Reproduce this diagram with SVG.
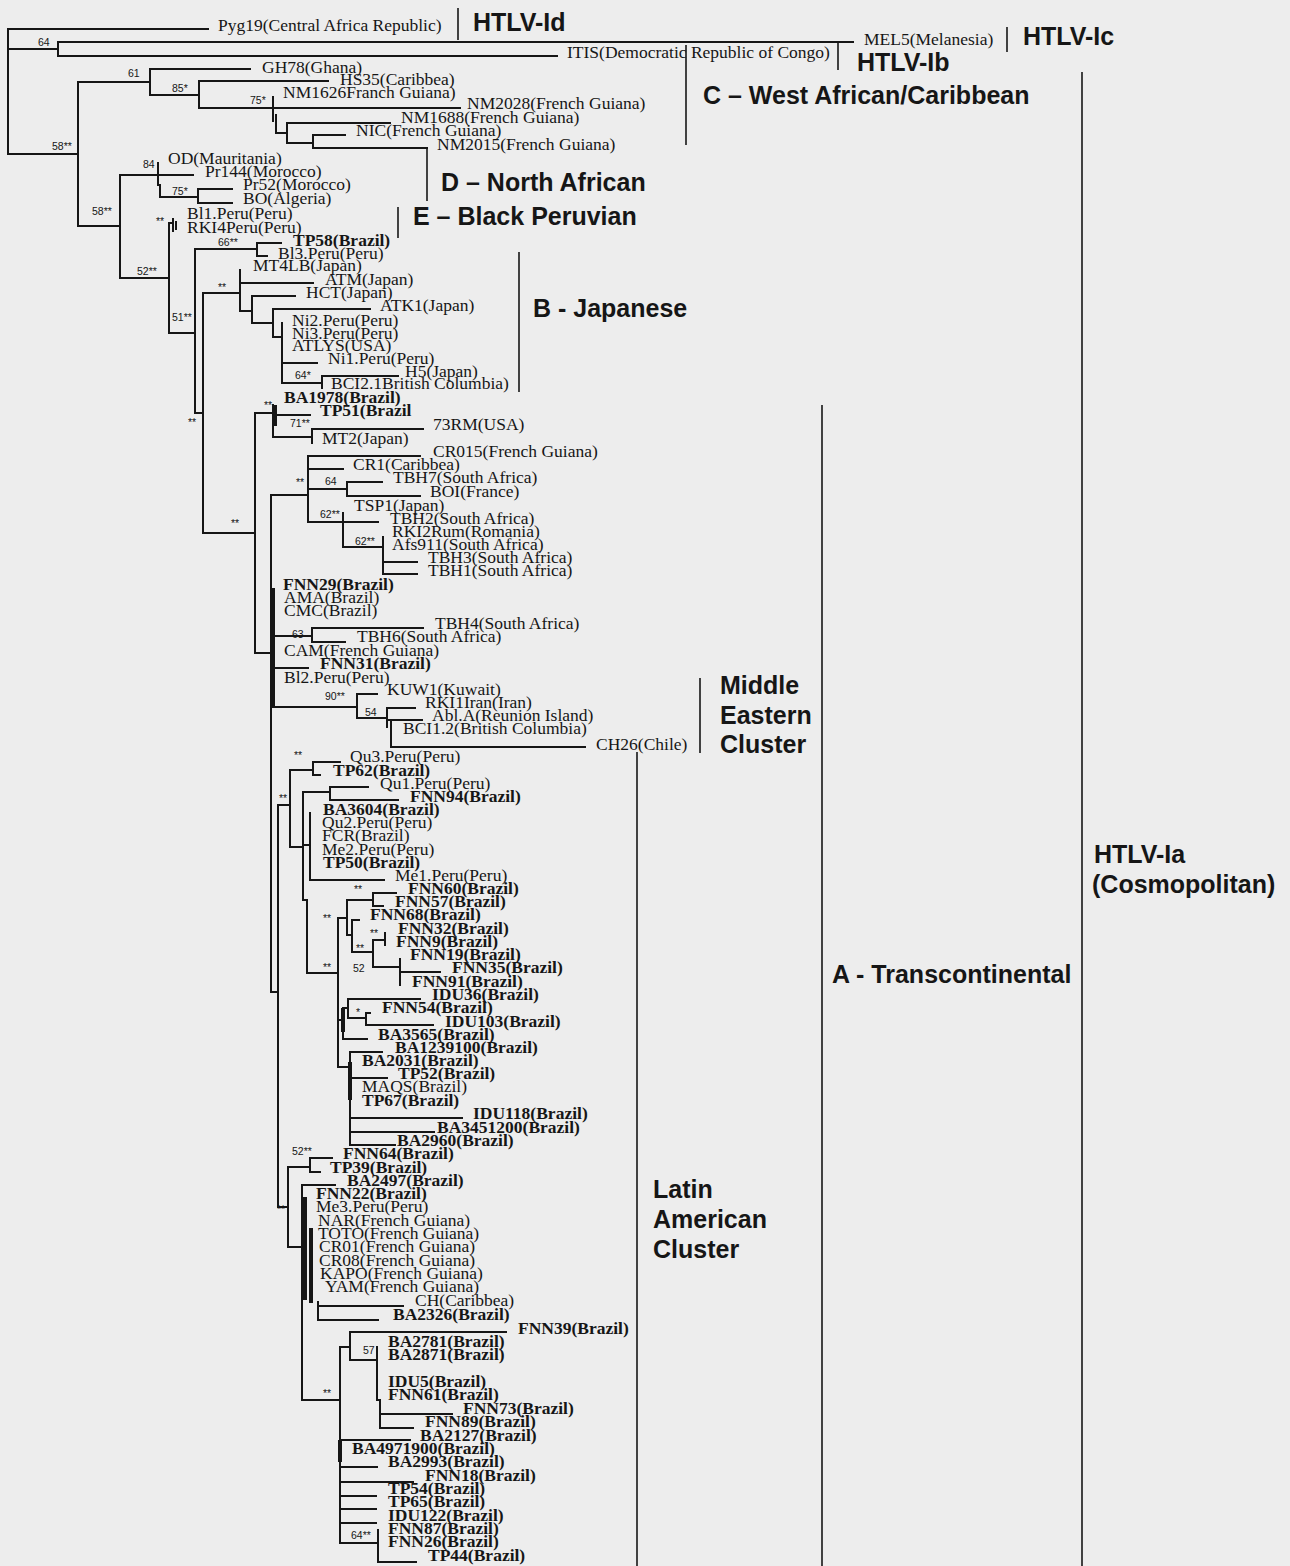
<svg xmlns="http://www.w3.org/2000/svg" width="1290" height="1566" viewBox="0 0 1290 1566">
<style>
.t{font-family:"Liberation Serif","Times New Roman",serif;font-size:17.5px;fill:#161616}
.b{font-weight:bold}
.s{font-family:"Liberation Sans",Arial,sans-serif;font-size:10.5px;fill:#161616}
.L{font-family:"Liberation Sans",Arial,sans-serif;font-size:25px;font-weight:bold;fill:#161616}
.e{fill:none;stroke:#161616;stroke-width:2;stroke-linecap:square}
.k{fill:none;stroke:#161616;stroke-width:4}
.bar{fill:none;stroke:#161616;stroke-width:1.6}
</style>
<rect width="1290" height="1566" fill="#ededed"/>
<g id="connectors">
<path class="e" d="M8 29V154M8 29H208M8 49H58M58 42V56M58 42H853M58 56H557M8 154H78M78 82V226M78 82H150M150 69V95M150 69H250M150 95H199M199 81V108M199 81H328M199 108H460M273 97V121M276 115V133M276 133H287M287 123V143M287 123H390M287 143H313M313 135V148M313 135H345M313 148H427"/>
<path class="e" d="M78 226H120M120 175V278M120 175H193M158 163V185M158 185H160M160 185V197M160 197H198M198 189V203M198 189H232M198 203H232"/>
<path class="e" d="M120 278H169M169 223V333M169 223H173M173 219V231M176 222V229M169 333H195M195 249V413M195 249H257M257 243V256M257 243H281M257 256H267M195 413H203M203 293V533M203 293H240M240 270V311M240 283H313M240 311H252M252 296V323M252 296H295M252 323H273M273 309V337M273 309H370M273 337H282M282 323V383M282 363H317M282 383H322M322 376V388M322 376H398"/>
<path class="e" d="M203 533H255M255 413V653M255 413H273M273 405V437M275 415H310M273 437H312M312 429V443M312 429H423"/>
<path class="k" d="M275 405V426"/>
<path class="e" d="M255 653H271M271 495V992M271 495H308M308 456V522M308 456H420M308 469H343M308 489H347M347 482V496M347 482H382M347 496H420M308 522H343M343 513V547M343 522H378M343 547H383M383 537V574M383 562H417M383 574H417"/>
<path class="k" d="M273 588V707"/>
<path class="e" d="M271 636H312M312 628V642M312 628H423M312 642H345M273 668H308M273 707H357M357 694V718M357 694H377M357 718H387M387 708V727M387 708H415M387 720H422M391 722V747M391 747H585"/>
<path class="e" d="M271 992H278M278 805V1207M278 805H290M290 770V847M290 770H313M313 762V775M313 762H340M313 775H320M290 847H303M303 792V900M303 792H330M330 787V800M330 787H368M330 800H398M303 845H310M310 813V880M310 880H384M303 900H307M307 900V973M307 973H338"/>
<path class="e" d="M338 918V1067M338 918H347M347 900V935M347 900H373M373 893V906M373 893H396M373 906H383M347 935H352M352 920V952M352 920H359M352 952H373M373 940V967M373 940H385M385 933V945M373 967H400M400 959V985M400 972H440"/>
<path class="e" d="M338 1020H343M343 1008V1039M343 1008H348M348 999V1018M348 999H420M348 1018H366M366 1013V1025M366 1013H370M366 1025H433M343 1039H367M338 1067H350M350 1052V1145M350 1052H382M350 1078H387M350 1118H462M350 1132H434M350 1145H395"/>
<path class="k" d="M343 1008V1032M350 1062V1100"/>
<path class="e" d="M278 1207H288M288 1167V1247M288 1167H310M310 1158V1172M310 1158H332M310 1172H320M288 1247H302M302 1185V1400M302 1185H335M318 1302V1320M318 1306H403M318 1320H378"/>
<path class="k" d="M305 1197V1300M311 1228V1303"/>
<path class="e" d="M302 1400H340M340 1347V1543M340 1347H350M350 1332V1360M350 1332H506M350 1360H377M377 1347V1400M380 1400V1428M377 1400H380M380 1414H452M380 1428H413M340 1440H410M340 1467H377M340 1482H413M340 1496H376M340 1509H376M340 1523H376M340 1543H378M378 1530V1562M378 1562H416"/>
<path class="k" d="M340 1440V1462"/>
</g>
<g id="support">
<text class="s" x="38" y="46">64</text>
<text class="s" x="52" y="150">58**</text>
<text class="s" x="128" y="77">61</text>
<text class="s" x="172" y="92">85*</text>
<text class="s" x="250" y="104">75*</text>
<text class="s" x="143" y="168">84</text>
<text class="s" x="172" y="195">75*</text>
<text class="s" x="92" y="215">58**</text>
<text class="s" x="156" y="225">**</text>
<text class="s" x="137" y="275">52**</text>
<text class="s" x="218" y="246">66**</text>
<text class="s" x="218" y="291">**</text>
<text class="s" x="172" y="321">51**</text>
<text class="s" x="295" y="379">64*</text>
<text class="s" x="188" y="426">**</text>
<text class="s" x="264" y="409">**</text>
<text class="s" x="290" y="427">71**</text>
<text class="s" x="231" y="527">**</text>
<text class="s" x="296" y="486">**</text>
<text class="s" x="325" y="485">64</text>
<text class="s" x="320" y="518">62**</text>
<text class="s" x="355" y="545">62**</text>
<text class="s" x="292" y="638">63</text>
<text class="s" x="325" y="700">90**</text>
<text class="s" x="365" y="716">54</text>
<text class="s" x="294" y="759">**</text>
<text class="s" x="279" y="802">**</text>
<text class="s" x="354" y="893">**</text>
<text class="s" x="323" y="922">**</text>
<text class="s" x="370" y="937">**</text>
<text class="s" x="356" y="952">**</text>
<text class="s" x="323" y="971">**</text>
<text class="s" x="353" y="972">52</text>
<text class="s" x="356" y="1016">*</text>
<text class="s" x="292" y="1155">52**</text>
<text class="s" x="277" y="1213">**</text>
<text class="s" x="363" y="1354">57</text>
<text class="s" x="323" y="1397">**</text>
<text class="s" x="351" y="1539">64**</text>
</g>
<g id="clade-HTLV-Id"><path class="bar" d="M458 8V40"/><text class="L" x="473" y="31">HTLV-Id</text></g>
<g id="clade-HTLV-Ic"><path class="bar" d="M1007 27V52"/><text class="L" x="1023" y="45">HTLV-Ic</text></g>
<g id="clade-HTLV-Ib"><path class="bar" d="M838 42V70"/><text class="L" x="857" y="71">HTLV-Ib</text></g>
<g id="clade-C"><path class="bar" d="M686 45V145"/><text class="L" x="703" y="104">C – West African/Caribbean</text></g>
<g id="clade-D"><path class="bar" d="M427 148V201"/><text class="L" x="441" y="191">D – North African</text></g>
<g id="clade-E"><path class="bar" d="M398 207V238"/><text class="L" x="413" y="225">E – Black Peruvian</text></g>
<g id="clade-B"><path class="bar" d="M519 252V392"/><text class="L" x="533" y="317">B - Japanese</text></g>
<g id="clade-A"><path class="bar" d="M822 405V1566"/><text class="L" x="832" y="983">A - Transcontinental</text></g>
<g id="clade-HTLV-Ia"><path class="bar" d="M1082 72V1566"/><text class="L" x="1094" y="863">HTLV-Ia</text><text class="L" x="1092" y="893">(Cosmopolitan)</text></g>
<g id="clade-MiddleEastern"><path class="bar" d="M700 678V753"/><text class="L" x="720" y="694">Middle</text><text class="L" x="720" y="724">Eastern</text><text class="L" x="720" y="753">Cluster</text></g>
<g id="clade-LatinAmerican"><path class="bar" d="M637 752V1566"/><text class="L" x="653" y="1198">Latin</text><text class="L" x="653" y="1228">American</text><text class="L" x="653" y="1258">Cluster</text></g>
<g id="leaf-Pyg19"><text class="t" x="218" y="31">Pyg19(Central Africa Republic)</text></g>
<g id="leaf-MEL5"><text class="t" x="864" y="45">MEL5(Melanesia)</text></g>
<g id="leaf-ITIS"><text class="t" x="567" y="58">ITIS(Democratic Republic of Congo)</text></g>
<g id="leaf-GH78"><text class="t" x="262" y="73">GH78(Ghana)</text></g>
<g id="leaf-HS35"><text class="t" x="340" y="85">HS35(Caribbea)</text></g>
<g id="leaf-NM1626"><text class="t" x="283" y="98">NM1626Franch Guiana)</text></g>
<g id="leaf-NM2028"><text class="t" x="467" y="109">NM2028(French Guiana)</text></g>
<g id="leaf-NM1688"><text class="t" x="401" y="123">NM1688(French Guiana)</text></g>
<g id="leaf-NIC"><text class="t" x="356" y="136">NIC(French Guiana)</text></g>
<g id="leaf-NM2015"><text class="t" x="437" y="150">NM2015(French Guiana)</text></g>
<g id="leaf-OD"><text class="t" x="168" y="164">OD(Mauritania)</text></g>
<g id="leaf-Pr144"><text class="t" x="205" y="177">Pr144(Morocco)</text></g>
<g id="leaf-Pr52"><text class="t" x="243" y="190">Pr52(Morocco)</text></g>
<g id="leaf-BO"><text class="t" x="243" y="204">BO(Algeria)</text></g>
<g id="leaf-Bl1"><text class="t" x="187" y="219">Bl1.Peru(Peru)</text></g>
<g id="leaf-RKI4"><text class="t" x="187" y="233">RKI4Peru(Peru)</text></g>
<g id="leaf-TP58"><text class="t b" x="293" y="246">TP58(Brazil)</text></g>
<g id="leaf-Bl3"><text class="t" x="278" y="259">Bl3.Peru(Peru)</text></g>
<g id="leaf-MT4LB"><text class="t" x="253" y="271">MT4LB(Japan)</text></g>
<g id="leaf-ATM"><text class="t" x="325" y="285">ATM(Japan)</text></g>
<g id="leaf-HCT"><text class="t" x="306" y="298">HCT(Japan)</text></g>
<g id="leaf-ATK1"><text class="t" x="380" y="311">ATK1(Japan)</text></g>
<g id="leaf-Ni2"><text class="t" x="292" y="326">Ni2.Peru(Peru)</text></g>
<g id="leaf-Ni3"><text class="t" x="292" y="339">Ni3.Peru(Peru)</text></g>
<g id="leaf-ATLYS"><text class="t" x="292" y="351">ATLYS(USA)</text></g>
<g id="leaf-Ni1"><text class="t" x="328" y="364">Ni1.Peru(Peru)</text></g>
<g id="leaf-H5"><text class="t" x="405" y="377">H5(Japan)</text></g>
<g id="leaf-BCI2.1"><text class="t" x="331" y="389">BCI2.1British Columbia)</text></g>
<g id="leaf-BA1978"><text class="t b" x="284" y="403">BA1978(Brazil)</text></g>
<g id="leaf-TP51"><text class="t b" x="320" y="416">TP51(Brazil</text></g>
<g id="leaf-73RM"><text class="t" x="433" y="430">73RM(USA)</text></g>
<g id="leaf-MT2"><text class="t" x="322" y="444">MT2(Japan)</text></g>
<g id="leaf-CR015"><text class="t" x="433" y="457">CR015(French Guiana)</text></g>
<g id="leaf-CR1"><text class="t" x="353" y="470">CR1(Caribbea)</text></g>
<g id="leaf-TBH7"><text class="t" x="393" y="483">TBH7(South Africa)</text></g>
<g id="leaf-BOI"><text class="t" x="430" y="497">BOI(France)</text></g>
<g id="leaf-TSP1"><text class="t" x="354" y="511">TSP1(Japan)</text></g>
<g id="leaf-TBH2"><text class="t" x="390" y="524">TBH2(South Africa)</text></g>
<g id="leaf-RKI2Rum"><text class="t" x="392" y="537">RKI2Rum(Romania)</text></g>
<g id="leaf-Afs911"><text class="t" x="392" y="550">Afs911(South Africa)</text></g>
<g id="leaf-TBH3"><text class="t" x="428" y="563">TBH3(South Africa)</text></g>
<g id="leaf-TBH1"><text class="t" x="428" y="576">TBH1(South Africa)</text></g>
<g id="leaf-FNN29"><text class="t b" x="283" y="590">FNN29(Brazil)</text></g>
<g id="leaf-AMA"><text class="t" x="284" y="603">AMA(Brazil)</text></g>
<g id="leaf-CMC"><text class="t" x="284" y="616">CMC(Brazil)</text></g>
<g id="leaf-TBH4"><text class="t" x="435" y="629">TBH4(South Africa)</text></g>
<g id="leaf-TBH6"><text class="t" x="357" y="642">TBH6(South Africa)</text></g>
<g id="leaf-CAM"><text class="t" x="284" y="656">CAM(French Guiana)</text></g>
<g id="leaf-FNN31"><text class="t b" x="320" y="669">FNN31(Brazil)</text></g>
<g id="leaf-Bl2"><text class="t" x="284" y="683">Bl2.Peru(Peru)</text></g>
<g id="leaf-KUW1"><text class="t" x="387" y="695">KUW1(Kuwait)</text></g>
<g id="leaf-RKI1Iran"><text class="t" x="425" y="708">RKI1Iran(Iran)</text></g>
<g id="leaf-AblA"><text class="t" x="432" y="721">Abl.A(Reunion Island)</text></g>
<g id="leaf-BCI1.2"><text class="t" x="403" y="734">BCI1.2(British Columbia)</text></g>
<g id="leaf-CH26"><text class="t" x="596" y="750">CH26(Chile)</text></g>
<g id="leaf-Qu3"><text class="t" x="350" y="762">Qu3.Peru(Peru)</text></g>
<g id="leaf-TP62"><text class="t b" x="333" y="776">TP62(Brazil)</text></g>
<g id="leaf-Qu1"><text class="t" x="380" y="789">Qu1.Peru(Peru)</text></g>
<g id="leaf-FNN94"><text class="t b" x="410" y="802">FNN94(Brazil)</text></g>
<g id="leaf-BA3604"><text class="t b" x="323" y="815">BA3604(Brazil)</text></g>
<g id="leaf-Qu2"><text class="t" x="322" y="828">Qu2.Peru(Peru)</text></g>
<g id="leaf-FCR"><text class="t" x="322" y="841">FCR(Brazil)</text></g>
<g id="leaf-Me2"><text class="t" x="322" y="855">Me2.Peru(Peru)</text></g>
<g id="leaf-TP50"><text class="t b" x="323" y="868">TP50(Brazil)</text></g>
<g id="leaf-Me1"><text class="t" x="395" y="881">Me1.Peru(Peru)</text></g>
<g id="leaf-FNN60"><text class="t b" x="408" y="894">FNN60(Brazil)</text></g>
<g id="leaf-FNN57"><text class="t b" x="395" y="907">FNN57(Brazil)</text></g>
<g id="leaf-FNN68"><text class="t b" x="370" y="920">FNN68(Brazil)</text></g>
<g id="leaf-FNN32"><text class="t b" x="398" y="934">FNN32(Brazil)</text></g>
<g id="leaf-FNN9"><text class="t b" x="396" y="947">FNN9(Brazil)</text></g>
<g id="leaf-FNN19"><text class="t b" x="410" y="960">FNN19(Brazil)</text></g>
<g id="leaf-FNN35"><text class="t b" x="452" y="973">FNN35(Brazil)</text></g>
<g id="leaf-FNN91"><text class="t b" x="412" y="987">FNN91(Brazil)</text></g>
<g id="leaf-IDU36"><text class="t b" x="432" y="1000">IDU36(Brazil)</text></g>
<g id="leaf-FNN54"><text class="t b" x="382" y="1013">FNN54(Brazil)</text></g>
<g id="leaf-IDU103"><text class="t b" x="445" y="1027">IDU103(Brazil)</text></g>
<g id="leaf-BA3565"><text class="t b" x="378" y="1040">BA3565(Brazil)</text></g>
<g id="leaf-BA1239100"><text class="t b" x="395" y="1053">BA1239100(Brazil)</text></g>
<g id="leaf-BA2031"><text class="t b" x="362" y="1066">BA2031(Brazil)</text></g>
<g id="leaf-TP52"><text class="t b" x="398" y="1079">TP52(Brazil)</text></g>
<g id="leaf-MAQS"><text class="t" x="362" y="1092">MAQS(Brazil)</text></g>
<g id="leaf-TP67"><text class="t b" x="362" y="1106">TP67(Brazil)</text></g>
<g id="leaf-IDU118"><text class="t b" x="473" y="1119">IDU118(Brazil)</text></g>
<g id="leaf-BA3451200"><text class="t b" x="437" y="1133">BA3451200(Brazil)</text></g>
<g id="leaf-BA2960"><text class="t b" x="397" y="1146">BA2960(Brazil)</text></g>
<g id="leaf-FNN64"><text class="t b" x="343" y="1159">FNN64(Brazil)</text></g>
<g id="leaf-TP39"><text class="t b" x="330" y="1173">TP39(Brazil)</text></g>
<g id="leaf-BA2497"><text class="t b" x="347" y="1186">BA2497(Brazil)</text></g>
<g id="leaf-FNN22"><text class="t b" x="316" y="1199">FNN22(Brazil)</text></g>
<g id="leaf-Me3"><text class="t" x="316" y="1212">Me3.Peru(Peru)</text></g>
<g id="leaf-NAR"><text class="t" x="318" y="1226">NAR(French Guiana)</text></g>
<g id="leaf-TOTO"><text class="t" x="318" y="1239">TOTO(French Guiana)</text></g>
<g id="leaf-CR01"><text class="t" x="319" y="1252">CR01(French Guiana)</text></g>
<g id="leaf-CR08"><text class="t" x="319" y="1266">CR08(French Guiana)</text></g>
<g id="leaf-KAPO"><text class="t" x="320" y="1279">KAPO(French Guiana)</text></g>
<g id="leaf-YAM"><text class="t" x="325" y="1292">YAM(French Guiana)</text></g>
<g id="leaf-CH"><text class="t" x="415" y="1306">CH(Caribbea)</text></g>
<g id="leaf-BA2326"><text class="t b" x="393" y="1320">BA2326(Brazil)</text></g>
<g id="leaf-FNN39"><text class="t b" x="518" y="1334">FNN39(Brazil)</text></g>
<g id="leaf-BA2781"><text class="t b" x="388" y="1347">BA2781(Brazil)</text></g>
<g id="leaf-BA2871"><text class="t b" x="388" y="1360">BA2871(Brazil)</text></g>
<g id="leaf-IDU5"><text class="t b" x="388" y="1387">IDU5(Brazil)</text></g>
<g id="leaf-FNN61"><text class="t b" x="388" y="1400">FNN61(Brazil)</text></g>
<g id="leaf-FNN73"><text class="t b" x="463" y="1414">FNN73(Brazil)</text></g>
<g id="leaf-FNN89"><text class="t b" x="425" y="1427">FNN89(Brazil)</text></g>
<g id="leaf-BA2127"><text class="t b" x="420" y="1441">BA2127(Brazil)</text></g>
<g id="leaf-BA4971900"><text class="t b" x="352" y="1454">BA4971900(Brazil)</text></g>
<g id="leaf-BA2993"><text class="t b" x="388" y="1467">BA2993(Brazil)</text></g>
<g id="leaf-FNN18"><text class="t b" x="425" y="1481">FNN18(Brazil)</text></g>
<g id="leaf-TP54"><text class="t b" x="388" y="1494">TP54(Brazil)</text></g>
<g id="leaf-TP65"><text class="t b" x="388" y="1507">TP65(Brazil)</text></g>
<g id="leaf-IDU122"><text class="t b" x="388" y="1521">IDU122(Brazil)</text></g>
<g id="leaf-FNN87"><text class="t b" x="388" y="1534">FNN87(Brazil)</text></g>
<g id="leaf-FNN26"><text class="t b" x="388" y="1547">FNN26(Brazil)</text></g>
<g id="leaf-TP44"><text class="t b" x="428" y="1561">TP44(Brazil)</text></g>
</svg>
